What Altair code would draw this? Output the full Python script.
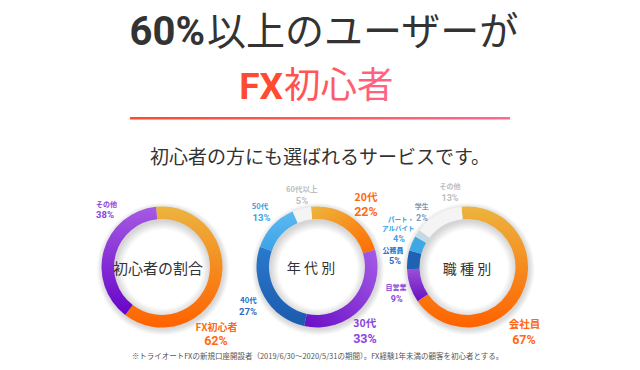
import math
import altair as alt
import pandas as pd

TAU = 2 * math.pi

# ---------------- text content ----------------
TITLE_NUM = "60%"
TITLE_REST = "以上のユーザーが"
TITLE2_A = "FX"
TITLE2_B = "初心者"
SUBTITLE = "初心者の方にも選ばれるサービスです。"
FOOTNOTE = "※トライオートFXの新規口座開設者（2019/6/30～2020/5/31の期間）。FX経験1年未満の顧客を初心者とする。"

# ---------------- data ----------------
d1_cats = ["FX初心者", "その他"]
d1_vals = [62, 38]
d1_center = "初心者の割合"

d2_cats = ["20代", "30代", "40代", "50代", "60代以上"]
d2_vals = [22, 33, 27, 13, 5]
d2_center = "年 代 別"

d3_cats = ["会社員", "自営業", "公務員", "パート・アルバイト", "学生", "その他"]
d3_vals = [67, 9, 5, 4, 2, 13]
d3_center = "職 種 別"

# ---------------- style ----------------
FONT = "Noto Sans CJK JP"
NUMFONT = "Roboto, Noto Sans CJK JP"
R_OUT = 60.5
R_IN = 48
OFF = -0.1
THETA_SCALE = alt.Scale(domain=[0, 100], range=[OFF, OFF + TAU])

ORANGE = "#FF6A13"
PURPLE = "#8B45DB"
DBLUE = "#2A6CC2"
LBLUE = "#38A2E6"
GRAY = "#BDBDBD"
GBLUE = "#7E9BB8"


def lin(c0, c1, x1=0, y1=0, x2=0, y2=1):
    return {"gradient": "linear", "x1": x1, "y1": y1, "x2": x2, "y2": y2,
            "stops": [{"offset": 0, "color": c0}, {"offset": 1, "color": c1}]}


def shadow_fill():
    rd = R_OUT + 6
    return {"gradient": "radial", "x1": 0.5, "y1": 0.5, "r1": 0,
            "x2": 0.5, "y2": 0.5, "r2": 0.5,
            "stops": [
                {"offset": 0, "color": "#ffffff"},
                {"offset": (R_IN - 9) / rd, "color": "#ffffff"},
                {"offset": R_IN / rd, "color": "#d4d4d4"},
                {"offset": R_OUT / rd, "color": "#d8d8d8"},
                {"offset": 1, "color": "#ffffff"},
            ]}


one = pd.DataFrame({"k": [0]})


def donut(cats, vals, fills, cx, cy):
    df = pd.DataFrame({"cat": cats, "val": vals, "ord": list(range(len(cats)))})
    base = alt.Chart(df).transform_window(
        cum="sum(val)", sort=[alt.SortField("ord")], frame=[None, 0]
    ).transform_calculate(start="datum.cum - datum.val")
    layers = [
        alt.Chart(one).mark_arc(radius=R_OUT + 6, radius2=0, theta=0, theta2=TAU,
                                fill=shadow_fill()).encode(
            x=alt.value(cx + 1), y=alt.value(cy + 2))
    ]
    for c, f in zip(cats, fills):
        layers.append(
            base.transform_filter(alt.datum.cat == c)
            .mark_arc(radius=R_OUT, radius2=R_IN, fill=f)
            .encode(theta=alt.Theta("start:Q", scale=THETA_SCALE),
                    theta2=alt.Theta2("cum:Q"),
                    x=alt.value(cx), y=alt.value(cy))
        )
    return layers


def label(text, x, y, size, color, weight="bold", align="center", font=FONT):
    return alt.Chart(one).mark_text(
        text=text, font=font, fontSize=size, fontWeight=weight, color=color,
        align=align, baseline="middle"
    ).encode(x=alt.value(x), y=alt.value(y))


def pct(value, x, y, size, color, align="center"):
    return label(f"{value}%", x, y, size, color, "bold", align, font=NUMFONT)


layers = []

# title block
layers.append(label(TITLE_NUM, 197, 25, 40, "#333333", "bold", "right", font=NUMFONT))
layers.append(label(TITLE_REST, 199, 25, 39, "#333333", "normal", "left"))
layers.append(label(TITLE2_A, 275, 80, 37, "#FF4B2E", "bold", "right", font=NUMFONT))
layers.append(alt.Chart(one).mark_text(
    text=TITLE2_B, font=FONT, fontSize=36.5, fontWeight="normal", align="left",
    baseline="middle", fill=lin("#FF5048", "#FF6688", 0, 0, 1, 0)
).encode(x=alt.value(276), y=alt.value(79)))
layers.append(alt.Chart(one).mark_rect(fill=lin("#FF4A2A", "#FF6890", 0, 0, 1, 0)).encode(
    x=alt.value(122), x2=alt.value(502), y=alt.value(109), y2=alt.value(111.5)))
layers.append(label(SUBTITLE, 312, 150, 19, "#333333", "normal"))
layers.append(label(FOOTNOTE, 309.5, 349, 7.5, "#555555", "normal"))

# donut 1
c1 = (154, 259)
layers += donut(d1_cats, d1_vals,
                [lin("#ECB43E", "#FF6200"), lin("#A65AE4", "#6605C8")], *c1)
layers.append(label(d1_center, 150, 261, 15, "#333333", "normal"))
layers.append(label(d1_cats[1], 88, 197, 7, PURPLE, "bold", "left"))
layers.append(pct(d1_vals[1], 88, 207, 9.5, PURPLE, "left"))
layers.append(label(d1_cats[0], 208.5, 320, 10, ORANGE))
layers.append(pct(d1_vals[0], 208, 333, 12.5, ORANGE))

# donut 2
c2 = (309, 259)
layers += donut(d2_cats, d2_vals,
                [lin("#EDB63E", "#FF6A00", 0, 0, 1, 1),
                 lin("#A45CE6", "#6A0FC6", 1, 0, 0, 1),
                 lin("#1C5AAD", "#2A7ACC", 0, 1, 0, 0),
                 lin("#3CA2E8", "#5CBAF0", 0, 1, 0, 0),
                 "#F4F4F4"], *c2)
layers.append(label(d2_center, 303, 261, 14, "#333333", "normal"))
layers.append(label(d2_cats[4], 293.7, 182, 7.5, GRAY, "bold"))
layers.append(pct(d2_vals[4], 294, 193, 9.5, GRAY))
layers.append(label(d2_cats[3], 252, 198.5, 7.5, LBLUE, "bold"))
layers.append(pct(d2_vals[3], 253.5, 210, 9.5, LBLUE))
layers.append(label(d2_cats[0], 358, 189.5, 10.5, ORANGE, "bold"))
layers.append(pct(d2_vals[0], 358, 204, 12.5, ORANGE))
layers.append(label(d2_cats[2], 240.5, 292.5, 7.5, DBLUE, "bold"))
layers.append(pct(d2_vals[2], 240, 303.5, 9.5, DBLUE))
layers.append(label(d2_cats[1], 356.7, 315.5, 10.5, PURPLE, "bold"))
layers.append(pct(d2_vals[1], 357, 330.5, 12.5, PURPLE))

# donut 3
c3 = (459.5, 259)
layers += donut(d3_cats, d3_vals,
                [lin("#ECB43E", "#FF6200"),
                 lin("#9A50D8", "#6A10C0"),
                 "#1F62B4", "#3EA8E6", "#C6D8E6", "#F4F4F4"], *c3)
layers.append(label(d3_center, 459, 262, 14, "#333333", "normal"))
layers.append(label(d3_cats[5], 442, 179, 7, GRAY))
layers.append(pct(d3_vals[5], 442, 189.5, 9, GRAY))
layers.append(label(d3_cats[4], 413.7, 198.5, 7, GBLUE))
layers.append(pct(d3_vals[4], 414, 210, 9, GBLUE))
layers.append(label("パート・", 393, 212, 6.5, LBLUE))
layers.append(label("アルバイト", 390.3, 220.7, 6.5, LBLUE))
layers.append(pct(d3_vals[3], 391, 231, 9, LBLUE))
layers.append(label(d3_cats[2], 385, 242.5, 7, DBLUE))
layers.append(pct(d3_vals[2], 387, 253, 9, DBLUE))
layers.append(label(d3_cats[1], 388, 280.3, 7, PURPLE))
layers.append(pct(d3_vals[1], 388.7, 291, 9, PURPLE))
layers.append(label(d3_cats[0], 516.5, 316.5, 10.5, ORANGE))
layers.append(pct(d3_vals[0], 516, 331.5, 12.5, ORANGE))

chart = alt.layer(*layers).properties(
    width=624, height=354, padding=0, autosize="none"
).configure_view(stroke=None)

chart.save("out.html", embed_options={"renderer": "svg", "actions": False})
